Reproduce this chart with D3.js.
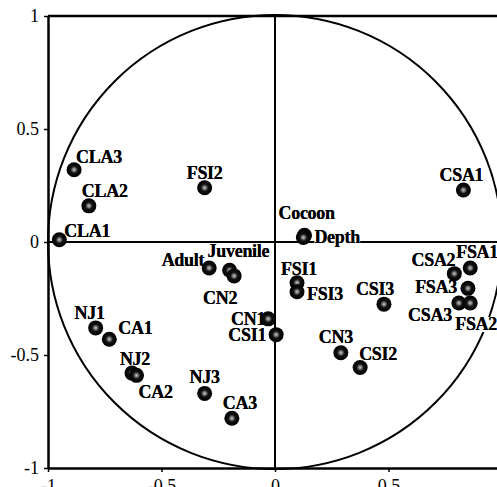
<!DOCTYPE html>
<html>
<head>
<meta charset="utf-8">
<script src="https://cdn.jsdelivr.net/npm/d3@7"></script>
<style>
  body { margin: 0; background: #fff; }
  svg { display: block; font-family: "Liberation Serif", "DejaVu Serif", serif; }
</style>
</head>
<body>
<svg id="chart" width="497" height="487"></svg>
<script>
// variable names and their loadings on the two axes
var names = ["CLA3","CLA2","CLA1","FSI2","CSA1","Cocoon","Depth","Adult","Juvenile","CN2",
             "CN1","CSI1","FSI1","FSI3","CSI3","CN3","CSI2","CSA2","FSA1","FSA3",
             "CSA3","FSA2","NJ1","CA1","NJ2","CA2","NJ3","CA3"];
var axis1 = [-0.885,-0.82,-0.95,-0.31,0.83,0.13,0.125,-0.29,-0.20,-0.18,
             -0.03,0.005,0.097,0.097,0.48,0.29,0.375,0.79,0.86,0.85,
             0.81,0.86,-0.79,-0.73,-0.63,-0.61,-0.31,-0.19];
var axis2 = [0.32,0.16,0.01,0.24,0.23,0.03,0.02,-0.115,-0.125,-0.15,
             -0.34,-0.41,-0.18,-0.22,-0.275,-0.49,-0.555,-0.14,-0.115,-0.205,
             -0.27,-0.27,-0.38,-0.43,-0.58,-0.59,-0.67,-0.78];
var ticks = [-1, -0.5, 0, 0.5, 1];
var tickLabels = ["-1", "-0.5", "0", "0.5", "1"];

// where each label sits relative to its point: dx, dy, anchor
var labelPlace = {
  CLA3:[2,-7,"start"], CLA2:[-7,-9,"start"], CLA1:[5,-3,"start"], FSI2:[0,-9,"middle"],
  CSA1:[-2,-9,"middle"], Cocoon:[-26,-16,"start"], Depth:[11,6,"start"],
  Adult:[-5,-2,"end"], Juvenile:[-22,-13,"start"], CN2:[-14,28,"middle"],
  CN1:[-3,6,"end"], CSI1:[-10,6,"end"], FSI1:[2,-8,"middle"], FSI3:[10,8,"start"],
  CSI3:[-9,-9,"middle"], CN3:[-5,-10,"middle"], CSI2:[-1,-7,"start"],
  CSA2:[1,-8,"end"], FSA1:[-14,-10,"start"], FSA3:[-11,5,"end"], CSA3:[-7,18,"end"],
  FSA2:[-15,27,"start"], NJ1:[-6,-9,"middle"], CA1:[9,-5,"start"], NJ2:[3,-8,"middle"],
  CA2:[2,23,"start"], NJ3:[0,-10,"middle"], CA3:[-9,-9,"start"]
};

var svg = d3.select("#chart");
var x = d3.scaleLinear().domain([-1, 1]).range([48, 502]);
var y = d3.scaleLinear().domain([-1, 1]).range([468, 16]);

var defs = svg.append("defs");
var grad = defs.append("radialGradient").attr("id", "dot");
grad.append("stop").attr("offset", "0%").attr("stop-color", "#c8c8c8");
grad.append("stop").attr("offset", "22%").attr("stop-color", "#7a7a7a");
grad.append("stop").attr("offset", "48%").attr("stop-color", "#111");
grad.append("stop").attr("offset", "100%").attr("stop-color", "#000");

// correlation circle
svg.append("circle")
  .attr("cx", x(0)).attr("cy", y(0))
  .attr("r", x(1) - x(0))
  .attr("fill", "none").attr("stroke", "#000").attr("stroke-width", 2);

// zero lines
svg.append("line").attr("x1", x(0)).attr("x2", x(0)).attr("y1", y(1)).attr("y2", y(-1))
  .attr("stroke", "#000").attr("stroke-width", 2);
svg.append("line").attr("x1", x(-1)).attr("x2", x(1)).attr("y1", y(0)).attr("y2", y(0))
  .attr("stroke", "#000").attr("stroke-width", 2);

// frame top
svg.append("line").attr("x1", x(-1)).attr("x2", x(1)).attr("y1", y(1)).attr("y2", y(1))
  .attr("stroke", "#000").attr("stroke-width", 2.5);

var fmt = function(d) { return tickLabels[ticks.indexOf(d)]; };

var gx = svg.append("g").attr("transform", "translate(0," + y(-1) + ")")
  .call(d3.axisBottom(x).tickValues(ticks).tickFormat(fmt).tickSize(4).tickSizeOuter(0));
var gy = svg.append("g").attr("transform", "translate(" + x(-1) + ",0)")
  .call(d3.axisLeft(y).tickValues(ticks).tickFormat(fmt).tickSize(4).tickSizeOuter(0));

[gx, gy].forEach(function(g) {
  g.select(".domain").attr("stroke-width", 2.5);
  g.selectAll(".tick line").attr("stroke-width", 1.5);
  g.selectAll("text").attr("font-family", "Liberation Serif, serif")
    .attr("font-size", 18).attr("fill", "#000");
});
gx.selectAll("text").attr("dy", "0.95em");
gy.selectAll("text").attr("x", -9);

var pts = names.map(function(n, i) { return { name: n, a: axis1[i], b: axis2[i] }; });

function placeText(sel) {
  sel.attr("x", function(d) { return x(d.a) + labelPlace[d.name][0]; })
    .attr("y", function(d) { return y(d.b) + labelPlace[d.name][1]; })
    .attr("text-anchor", function(d) { return labelPlace[d.name][2]; })
    .attr("font-size", 18).attr("font-weight", "bold")
    .attr("letter-spacing", -0.3)
    .text(function(d) { return d.name; });
}

// labels with white backing so they interrupt lines as in the source
var lab = svg.append("g").selectAll("g").data(pts).join("g");
lab.append("text").call(placeText);
lab.each(function() {
  var t = d3.select(this).select("text");
  var bb = t.node().getBBox();
  d3.select(this).insert("rect", "text")
    .attr("x", bb.x).attr("y", bb.y + 3).attr("width", bb.width).attr("height", bb.height - 5)
    .attr("fill", "#fff");
});

svg.append("g").selectAll("circle").data(pts).join("circle")
  .attr("cx", function(d) { return x(d.a); })
  .attr("cy", function(d) { return y(d.b); })
  .attr("r", 7.5)
  .attr("fill", "url(#dot)");

// text again on top of the dots
svg.append("g").selectAll("text").data(pts).join("text").call(placeText);
</script>
</body>
</html>
